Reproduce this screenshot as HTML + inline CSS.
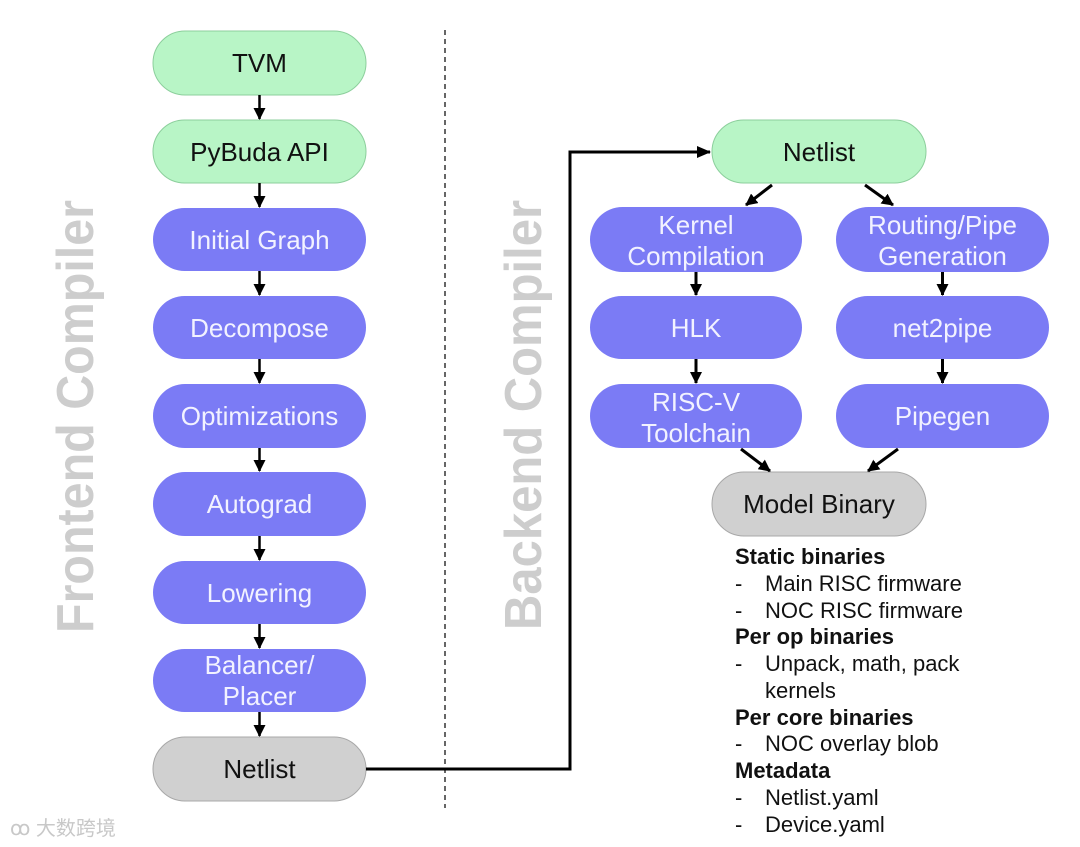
<!DOCTYPE html>
<html><head><meta charset="utf-8"><style>
html,body{margin:0;padding:0;background:#fff;}
svg{display:block;}
text{font-family:"Liberation Sans",Arial,sans-serif;}
</style></head><body>
<svg width="1080" height="847" viewBox="0 0 1080 847" xmlns="http://www.w3.org/2000/svg">
<defs>
<marker id="ah" markerWidth="12" markerHeight="12" refX="11" refY="6" orient="auto" markerUnits="userSpaceOnUse">
<path d="M0,0 L12,6 L0,12 z" fill="#000"/>
</marker>
<marker id="ah2" markerWidth="14" markerHeight="12" refX="13" refY="6" orient="auto" markerUnits="userSpaceOnUse">
<path d="M0,0 L14,6 L0,12 z" fill="#000"/>
</marker>
</defs>

<text transform="translate(93,633) rotate(-90)" font-size="52" font-weight="bold" fill="#cdcdcd" textLength="433" lengthAdjust="spacingAndGlyphs">Frontend Compiler</text>
<text transform="translate(541,630) rotate(-90)" font-size="52" font-weight="bold" fill="#cdcdcd" textLength="430" lengthAdjust="spacingAndGlyphs">Backend Compiler</text>

<line x1="445" y1="30" x2="445" y2="808" stroke="#333" stroke-width="1.5" stroke-dasharray="5,4"/>

<g font-size="26" text-anchor="middle">
<rect x="153" y="31" width="213" height="64" rx="32" fill="#b8f5c6" stroke="#8ccf9c"/>
<text x="259.5" y="72" fill="#111">TVM</text>
<rect x="153" y="120" width="213" height="63" rx="31.5" fill="#b8f5c6" stroke="#8ccf9c"/>
<text x="259.5" y="161" fill="#111">PyBuda API</text>
<rect x="153" y="208" width="213" height="63" rx="31.5" fill="#7b7bf5"/>
<text x="259.5" y="249" fill="#f2f2ff">Initial Graph</text>
<rect x="153" y="296" width="213" height="63" rx="31.5" fill="#7b7bf5"/>
<text x="259.5" y="337" fill="#f2f2ff">Decompose</text>
<rect x="153" y="384" width="213" height="64" rx="32" fill="#7b7bf5"/>
<text x="259.5" y="425" fill="#f2f2ff">Optimizations</text>
<rect x="153" y="472" width="213" height="64" rx="32" fill="#7b7bf5"/>
<text x="259.5" y="513" fill="#f2f2ff">Autograd</text>
<rect x="153" y="561" width="213" height="63" rx="31.5" fill="#7b7bf5"/>
<text x="259.5" y="602" fill="#f2f2ff">Lowering</text>
<rect x="153" y="649" width="213" height="63" rx="31.5" fill="#7b7bf5"/>
<text x="259.5" y="674" fill="#f2f2ff">Balancer/</text>
<text x="259.5" y="705" fill="#f2f2ff">Placer</text>
<rect x="153" y="737" width="213" height="64" rx="32" fill="#d0d0d0" stroke="#a8a8a8"/>
<text x="259.5" y="778" fill="#111">Netlist</text>
</g>
<g stroke="#000" stroke-width="2.5" marker-end="url(#ah)">
<line x1="259.5" y1="95" x2="259.5" y2="119"/>
<line x1="259.5" y1="183" x2="259.5" y2="207"/>
<line x1="259.5" y1="271" x2="259.5" y2="295"/>
<line x1="259.5" y1="359" x2="259.5" y2="383"/>
<line x1="259.5" y1="448" x2="259.5" y2="471"/>
<line x1="259.5" y1="536" x2="259.5" y2="560"/>
<line x1="259.5" y1="624" x2="259.5" y2="648"/>
<line x1="259.5" y1="712" x2="259.5" y2="736"/>
</g>

<polyline points="366,769 570,769 570,152 710,152" fill="none" stroke="#000" stroke-width="3" marker-end="url(#ah2)"/>

<g font-size="26" text-anchor="middle">
<rect x="712" y="120" width="214" height="63" rx="31.5" fill="#b8f5c6" stroke="#8ccf9c"/>
<text x="819" y="161" fill="#111">Netlist</text>
<rect x="590" y="207" width="212" height="65" rx="32.5" fill="#7b7bf5"/>
<text x="696" y="234" fill="#f2f2ff">Kernel</text>
<text x="696" y="265" fill="#f2f2ff">Compilation</text>
<rect x="836" y="207" width="213" height="65" rx="32.5" fill="#7b7bf5"/>
<text x="942.5" y="234" fill="#f2f2ff">Routing/Pipe</text>
<text x="942.5" y="265" fill="#f2f2ff">Generation</text>
<rect x="590" y="296" width="212" height="63" rx="31.5" fill="#7b7bf5"/>
<text x="696" y="337" fill="#f2f2ff">HLK</text>
<rect x="836" y="296" width="213" height="63" rx="31.5" fill="#7b7bf5"/>
<text x="942.5" y="337" fill="#f2f2ff">net2pipe</text>
<rect x="590" y="384" width="212" height="64" rx="32" fill="#7b7bf5"/>
<text x="696" y="411" fill="#f2f2ff">RISC-V</text>
<text x="696" y="442" fill="#f2f2ff">Toolchain</text>
<rect x="836" y="384" width="213" height="64" rx="32" fill="#7b7bf5"/>
<text x="942.5" y="425" fill="#f2f2ff">Pipegen</text>
<rect x="712" y="472" width="214" height="64" rx="32" fill="#d0d0d0" stroke="#a8a8a8"/>
<text x="819" y="513" fill="#111">Model Binary</text>
</g>
<g stroke="#000" stroke-width="3" marker-end="url(#ah)">
<line x1="772" y1="185" x2="746" y2="205"/>
<line x1="865" y1="185" x2="893" y2="205"/>
<line x1="696" y1="272" x2="696" y2="295"/>
<line x1="942.5" y1="272" x2="942.5" y2="295"/>
<line x1="696" y1="359" x2="696" y2="383"/>
<line x1="942.5" y1="359" x2="942.5" y2="383"/>
<line x1="741" y1="449" x2="770" y2="471"/>
<line x1="898" y1="449" x2="868" y2="471"/>
</g>

<g font-size="22" fill="#111">
<text x="735" y="564" font-weight="bold">Static binaries</text>
<text x="735" y="591">-</text><text x="765" y="591">Main RISC firmware</text>
<text x="735" y="618">-</text><text x="765" y="618">NOC RISC firmware</text>
<text x="735" y="644" font-weight="bold">Per op binaries</text>
<text x="735" y="671">-</text><text x="765" y="671">Unpack, math, pack</text>
<text x="765" y="698">kernels</text>
<text x="735" y="725" font-weight="bold">Per core binaries</text>
<text x="735" y="751">-</text><text x="765" y="751">NOC overlay blob</text>
<text x="735" y="778" font-weight="bold">Metadata</text>
<text x="735" y="805">-</text><text x="765" y="805">Netlist.yaml</text>
<text x="735" y="832">-</text><text x="765" y="832">Device.yaml</text>
</g>

<text x="10" y="835" font-size="20" fill="#c8c8c8" style="font-family:'Liberation Sans','Noto Sans CJK SC',sans-serif">ꝏ 大数跨境</text>
</svg>
</body></html>
